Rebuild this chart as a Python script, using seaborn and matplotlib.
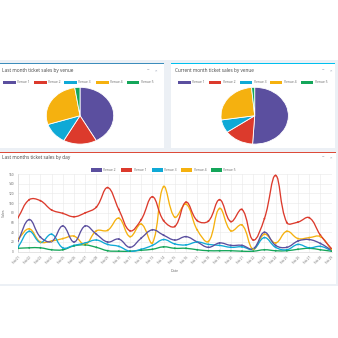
import numpy as np
import pandas as pd
import matplotlib
matplotlib.use("Agg")
import matplotlib.pyplot as plt
from matplotlib.patches import Rectangle, PathPatch
from matplotlib.path import Path
import seaborn as sns

# ---------------- data ----------------
venues = ["Venue 1", "Venue 2", "Venue 3", "Venue 4", "Venue 5"]
venue_colors = ["#5b4f9f", "#dc3a2c", "#0fa9d6", "#f5b10f", "#14a65a"]
last_month_share = [42, 16, 12, 27.5, 2.5]
current_month_share = [51, 14.2, 7.4, 25.9, 1.5]

days = [f"Feb {d:02d}" for d in range(1, 30)]
line_labels = ["Venue 2", "Venue 1", "Venue 3", "Venue 4", "Venue 5"]
line_colors = ["#5b4f9f", "#dc3a2c", "#0fa9d6", "#f5b10f", "#14a65a"]
s_purple = [22, 66, 30, 21, 53, 20, 53, 36, 20, 26, 9, 28, 45, 34, 24, 31, 20, 9, 18, 13, 13, 6, 40, 13, 9, 22, 25, 17, 3]
s_red = [70, 107, 105, 86, 79, 72, 80, 92, 132, 87, 43, 66, 113, 64, 52, 102, 64, 63, 107, 62, 87, 24, 68, 157, 60, 61, 70, 34, 6]
s_cyan = [9, 42, 19, 36, 8, 13, 18, 24, 15, 11, 1, 5, 13, 25, 16, 14, 20, 15, 13, 9, 10, 5, 29, 9, 4, 15, 8, 11, 2]
s_orange = [26, 47, 20, 22, 27, 32, 15, 43, 44, 69, 31, 57, 18, 134, 71, 98, 45, 21, 89, 43, 55, 5, 36, 18, 42, 27, 29, 31, 4]
s_green = [7, 8, 8, 4, 4, 12, 14, 9, 2, 1, 1, 3, 5, 10, 7, 7, 4, 2, 2, 2, 1, 1, 4, 2, 2, 5, 7, 4, 1]
line_series = [s_purple, s_red, s_cyan, s_orange, s_green]
y_ticks = [0, 20, 40, 60, 80, 100, 120, 140, 160]

# ---------------- style ----------------
sns.set_style("white")
plt.rcParams["font.family"] = ["Open Sans", "DejaVu Sans"]

W = H = 338.0
fig = plt.figure(figsize=(3.38, 3.38), dpi=100)
fig.patch.set_facecolor("white")


def box(x0, y0, x1, y1):
    return [x0 / W, 1 - y1 / H, (x1 - x0) / W, (y1 - y0) / H]


def frect(x0, y0, x1, y1, color, z=0):
    fig.patches.append(Rectangle((x0 / W, 1 - y1 / H), (x1 - x0) / W, (y1 - y0) / H,
                                 transform=fig.transFigure, facecolor=color,
                                 edgecolor="none", zorder=z))


def ftext(x, y, s, **kw):
    fig.text(x / W, 1 - y / H, s, **kw)


# dashboard background and boxes
frect(0, 60, 338, 286, "#ecf0f5", z=-10)
frect(0, 63, 164, 148, "white", z=-9)
frect(0, 63, 164, 64, "#3c8dbc", z=-8)
frect(171, 63, 335, 148, "white", z=-9)
frect(171, 63, 335, 64, "#00c0ef", z=-8)
frect(0, 152, 336, 284, "white", z=-9)
frect(0, 152, 336, 153, "#dd4b39", z=-8)

title_kw = dict(fontsize=3.4, color="#444444", va="center", ha="left")
ftext(2, 70.5, "Last month ticket sales by venue", **title_kw)
ftext(175, 70.5, "Current month ticket sales by venue", **title_kw)
ftext(1.5, 158, "Last months ticket sales by day", **title_kw)
icon_kw = dict(fontsize=3.2, color="#97a0b3", va="center", ha="center")
ftext(148, 70, "−", **icon_kw); ftext(156, 70, "×", **icon_kw)
ftext(323, 70, "−", **icon_kw); ftext(330.5, 70, "×", **icon_kw)
ftext(323, 157, "−", **icon_kw); ftext(330.5, 157, "×", **icon_kw)

leg_kw = dict(fontsize=2.4, color="#666666", va="center", ha="left")


def legend_row(x_starts, y, labels, colors, bw):
    for xs, lab, col in zip(x_starts, labels, colors):
        frect(xs, y - 1.6, xs + bw, y + 1.6, col, z=5)
        ftext(xs + bw + 1.5, y, lab, **leg_kw)


legend_row([3.3, 34, 64.3, 96, 126.7], 82.3, venues, venue_colors, 12.5)
legend_row([178, 208.7, 239.7, 269.7, 300.7], 82.3, venues, venue_colors, 12.5)
legend_row([90.7, 121, 152, 181.3, 210.7], 170, line_labels, line_colors, 11)

# ---------------- pies ----------------
for (cx, shares) in [(80, last_month_share), (254.7, current_month_share)]:
    pax = fig.add_axes(box(cx - 33.7, 115.7 - 28.4, cx + 33.7, 115.7 + 28.4))
    pax.pie(shares, colors=venue_colors, startangle=90, counterclock=False,
            wedgeprops=dict(edgecolor="white", linewidth=0.6))
    pax.set_aspect("auto")
    pax.set_xlim(-1, 1)
    pax.set_ylim(-1, 1)
    pax.axis("off")

# ---------------- line chart ----------------
ax = fig.add_axes(box(18, 174, 331.6, 251.7))
ax.set_facecolor("none")
n = len(days)
idx = np.arange(n)
ax.set_xlim(0, n - 1)
ax.set_ylim(0, 160)
ax.set_xticks(idx)
ax.set_xticklabels(days, rotation=45, ha="right", rotation_mode="anchor",
                   fontsize=2.2, color="#666666")
ax.set_yticks(y_ticks)
ax.set_yticklabels([str(v) for v in y_ticks], fontsize=2.3, color="#666666")
ax.grid(True, color="#e8e8e8", linewidth=0.4)
ax.tick_params(axis="both", length=1.5, width=0.4, color="#e8e8e8", pad=1.2)
for side in ["top", "right"]:
    ax.spines[side].set_visible(False)
for side in ["left", "bottom"]:
    ax.spines[side].set_color("#d0d0d0")
    ax.spines[side].set_linewidth(0.4)

fig.canvas.draw()
tension = 0.4
trans = ax.transData
inv = trans.inverted()
ymin_px = trans.transform((0, 0))[1]
ymax_px = trans.transform((0, 160))[1]
for k, (vals, col) in enumerate(zip(line_series, line_colors)):
    pts = trans.transform(np.column_stack([idx, np.asarray(vals, float)]))
    cps_prev = np.zeros_like(pts)
    cps_next = np.zeros_like(pts)
    for i in range(n):
        prev = pts[i - 1] if i > 0 else pts[i]
        nxt = pts[i + 1] if i < n - 1 else pts[i]
        d01 = np.hypot(*(pts[i] - prev))
        d12 = np.hypot(*(nxt - pts[i]))
        tot = d01 + d12
        s01 = d01 / tot if tot > 0 else 0
        s12 = d12 / tot if tot > 0 else 0
        cps_prev[i] = pts[i] - tension * s01 * (nxt - prev)
        cps_next[i] = pts[i] + tension * s12 * (nxt - prev)
    for arr in (cps_prev, cps_next):
        arr[:, 1] = np.clip(arr[:, 1], ymin_px, ymax_px)
    verts = [pts[0]]
    codes = [Path.MOVETO]
    for i in range(n - 1):
        verts += [cps_next[i], cps_prev[i + 1], pts[i + 1]]
        codes += [Path.CURVE4] * 3
    path = Path(inv.transform(np.array(verts)), codes)
    ax.add_patch(PathPatch(path, facecolor="none", edgecolor=col, linewidth=0.95,
                           transform=ax.transData, zorder=10 - k))

df = pd.DataFrame({
    "day": np.tile(idx, len(line_series)),
    "sales": np.concatenate([np.asarray(s, float) for s in line_series]),
    "venue": np.repeat(line_labels, n),
})
sns.scatterplot(data=df, x="day", y="sales", hue="venue", palette=dict(zip(line_labels, line_colors)),
                s=1.8, edgecolor="none", legend=False, ax=ax, zorder=12)
ax.set_xlabel("Date", fontsize=2.6, color="#666666", labelpad=3)
ax.set_ylabel("Sales", fontsize=2.6, color="#666666", labelpad=2)

fig.savefig("out.png", dpi=100)
